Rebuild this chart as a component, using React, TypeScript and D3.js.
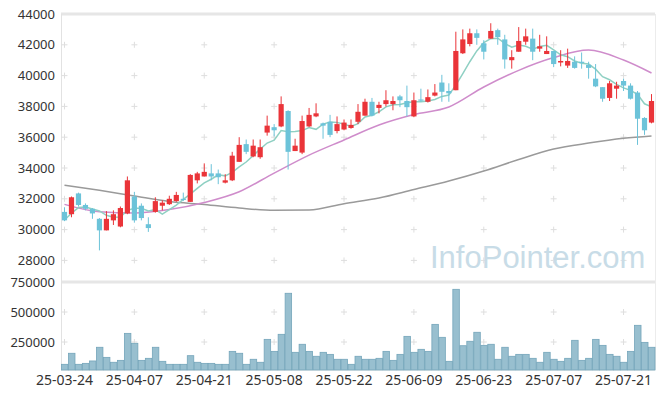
import * as d3 from 'd3';

const dates = [
  '25-03-24', '25-03-25', '25-03-26', '25-03-27', '25-03-28', '25-03-31',
  '25-04-01', '25-04-02', '25-04-03', '25-04-04', '25-04-07', '25-04-08', '25-04-09', '25-04-10', '25-04-11',
  '25-04-14', '25-04-15', '25-04-16', '25-04-17', '25-04-18', '25-04-21', '25-04-22', '25-04-23', '25-04-24', '25-04-25',
  '25-04-28', '25-04-29', '25-04-30', '25-05-02', '25-05-07', '25-05-08', '25-05-09',
  '25-05-12', '25-05-13', '25-05-14', '25-05-15', '25-05-16', '25-05-19', '25-05-20', '25-05-21', '25-05-22', '25-05-23',
  '25-05-26', '25-05-27', '25-05-28', '25-05-29', '25-05-30', '25-06-02', '25-06-04', '25-06-05', '25-06-09',
  '25-06-10', '25-06-11', '25-06-12', '25-06-13', '25-06-16', '25-06-17', '25-06-18', '25-06-19', '25-06-20', '25-06-23',
  '25-06-24', '25-06-25', '25-06-26', '25-06-27', '25-06-30', '25-07-01', '25-07-02', '25-07-03', '25-07-04', '25-07-07',
  '25-07-08', '25-07-09', '25-07-10', '25-07-11', '25-07-14', '25-07-15', '25-07-16', '25-07-17', '25-07-18', '25-07-21',
  '25-07-22', '25-07-23', '25-07-24', '25-07-25',
];

const opens = [
  31150, 31000, 32350, 31600, 31350, 30700, 29950, 30600, 30200, 31050,
  32150, 31550, 30350, 31150, 31550, 31650, 31850, 32000, 31800, 33200,
  33450, 33650, 33650, 33050, 33200, 34400, 35550, 34750, 34700, 36300,
  36650, 36700, 37700, 35100, 35000, 36700, 37350, 36900, 37000, 36400,
  36500, 36600, 37000, 37400, 38300, 37900, 38150, 38150, 38650, 38350,
  37350, 38450, 38300, 38700, 39550, 39000, 39050, 41450, 42050, 42750,
  42100, 42400, 42950, 42350, 41000, 41550, 42200, 42400, 41750, 41400,
  41600, 40850, 40650, 40900, 40900, 40700, 39800, 39250, 38550, 39150,
  39650, 39350, 38900, 37250, 36950,
];
const highs = [
  31450, 32150, 32400, 31700, 31400, 30750, 31200, 31250, 31500, 33450,
  32450, 31700, 30800, 32100, 31900, 32200, 32450, 32400, 33600, 33750,
  34300, 34250, 33900, 33600, 35050, 36000, 35850, 35850, 35850, 37400,
  36850, 38650, 37750, 35900, 37400, 37900, 38200, 36950, 37450, 37350,
  37150, 37150, 38150, 38500, 38550, 38300, 39050, 38650, 38750, 39350,
  38900, 39150, 39100, 39450, 40050, 39500, 42850, 43000, 43050, 43000,
  42300, 43400, 43050, 42650, 41650, 43150, 43050, 43050, 42650, 42550,
  41600, 41650, 41750, 41250, 41500, 40900, 40750, 39250, 39650, 39600,
  39800, 39500, 39000, 37300, 38800,
];
const lows = [
  30550, 30800, 31500, 31250, 30700, 28650, 29950, 30300, 30150, 31000,
  30450, 30600, 29850, 31100, 31250, 31600, 31800, 31850, 31800, 33000,
  33450, 33200, 32950, 33000, 33150, 34400, 34900, 34700, 34600, 36100,
  36050, 36650, 33900, 35100, 34900, 36650, 37300, 35900, 36000, 36250,
  36450, 36550, 36850, 37400, 37350, 37550, 38000, 37750, 37950, 37350,
  37300, 38300, 38250, 38650, 38300, 38300, 39050, 41400, 41900, 42000,
  41050, 42400, 42000, 40450, 40450, 41550, 42000, 41000, 41550, 41400,
  40550, 40600, 40500, 40450, 40450, 39800, 39250, 38300, 38350, 38500,
  39000, 38450, 35500, 36150, 36900,
];
const closes = [
  30600, 32100, 31600, 31350, 31050, 29950, 30700, 31000, 31400, 33200,
  30600, 30750, 30100, 31850, 31750, 32000, 32250, 31950, 33550, 33650,
  33750, 33450, 33400, 33200, 34800, 35500, 35050, 35450, 35350, 36750,
  36450, 38150, 35050, 35450, 37050, 37450, 37550, 36750, 36150, 36850,
  36950, 36800, 37650, 38300, 37400, 38100, 38400, 38350, 38400, 37950,
  38400, 38400, 38600, 38900, 38950, 38850, 41600, 42350, 42750, 42450,
  41550, 42900, 42500, 41050, 41200, 42250, 42550, 41550, 41900, 41600,
  40750, 40950, 40950, 40500, 40850, 40500, 39300, 38500, 39500, 39350,
  39350, 38500, 37200, 36450, 38350,
];
const volumes = [
  64000, 156000, 64000, 72000, 92000, 206000, 122000, 81000, 97000, 322000,
  239000, 97000, 114000, 206000, 89000, 64000, 64000, 64000, 136000, 81000,
  72000, 72000, 64000, 64000, 172000, 156000, 64000, 106000, 81000, 272000,
  172000, 314000, 656000, 164000, 231000, 172000, 131000, 164000, 147000, 106000,
  106000, 64000, 131000, 106000, 106000, 114000, 172000, 97000, 147000, 297000,
  164000, 189000, 172000, 397000, 289000, 89000, 689000, 219000, 256000, 331000,
  222000, 231000, 106000, 206000, 131000, 147000, 147000, 114000, 81000, 164000,
  106000, 89000, 114000, 264000, 97000, 114000, 272000, 222000, 147000, 131000,
  81000, 172000, 389000, 247000, 206000,
];
// closes of the four sessions before the first bar, for the 5-day average
const prevCloses = [29900, 29750, 31200, 31650];

// 20-day and 120-day averages every 5 sessions
const maIdx = [0, 5, 10, 15, 20, 25, 30, 35, 40, 45, 50, 55, 60, 65, 70, 75, 80, 84];
const ma20 = [31640, 31160, 31080, 31300, 31760, 32460, 33670, 34840, 35820, 36790, 37470, 37960, 39260, 40340, 41170, 41660, 41010, 40170];
const ma120 = [32880, 32550, 32180, 31820, 31630, 31400, 31250, 31270, 31680, 32050, 32600, 33150, 33800, 34550, 35230, 35620, 35930, 36080];

const priceTicks = [28000, 30000, 32000, 34000, 36000, 38000, 40000, 42000, 44000];
const volumeTicks = [250000, 500000, 750000];
const dateTickIdx = [0, 10, 20, 30, 40, 50, 60, 70, 80];

const W = 665;
const H = 399;
const left = 61;
const right = 655;
const priceTop = 14;
const volTop = 282;
const volBottom = 370;

const UP = '#ea3439';
const DOWN = '#6cc3d9';
const GRID = '#dedede';
const FONT = '"Noto Sans", sans-serif';

export default function App() {
  const x = d3.scaleBand<string>().domain(dates).range([left, right]).padding(0);
  const bw = x.bandwidth();
  const cx = (i: number) => (x(dates[i]) ?? 0) + bw / 2;

  const y = d3.scaleLinear().domain([28000, 44000]).range([260.4, priceTop]);
  const yv = d3.scaleLinear().domain([0, 750000]).range([372, volTop]);

  const allCloses = [...prevCloses, ...closes];
  const ma5 = closes.map((_, i) => d3.mean(allCloses.slice(i, i + 5)) ?? 0);

  const line5 = d3
    .line<number>()
    .x((_, i) => cx(i))
    .y((d) => y(d));
  const lineMa = d3
    .line<number>()
    .x((_, i) => cx(maIdx[i]))
    .y((d) => y(d))
    .curve(d3.curveMonotoneX);

  const crossXs = dateTickIdx.map((i) => cx(i));
  const crossYs = [
    ...priceTicks.filter((t) => t < 44000).map((t) => y(t)),
    ...volumeTicks.filter((t) => t < 750000).map((t) => yv(t)),
  ];

  return (
    <svg
      width={W}
      height={H}
      style={{ position: 'absolute', left: 0, top: 0, background: '#fff' }}
      fontFamily={FONT}
    >
      {/* frame */}
      <line x1={left} x2={right} y1={priceTop} y2={priceTop} stroke="#e6e6e6" strokeWidth={3} />
      <line x1={left} x2={right} y1={volTop} y2={volTop} stroke="#e6e6e6" strokeWidth={3} />
      <line x1={left} x2={right} y1={volBottom} y2={volBottom} stroke="#e6e6e6" strokeWidth={1} />
      <line x1={left + 0.5} x2={left + 0.5} y1={priceTop} y2={volBottom} stroke="#e2e2e2" />
      <line x1={right + 0.5} x2={right + 0.5} y1={priceTop} y2={volBottom} stroke="#ececec" />

      {/* grid crosses */}
      {crossXs.map((gx) =>
        crossYs.map((gy) => (
          <g key={`${gx}-${gy}`} stroke={GRID} strokeWidth={1}>
            <line x1={gx - 3} x2={gx + 3} y1={gy} y2={gy} />
            <line x1={gx} x2={gx} y1={gy - 3} y2={gy + 3} />
          </g>
        ))
      )}

      {/* watermark */}
      <text
        x={430}
        y={268}
        fontSize={31}
        fontFamily='"Liberation Sans", Arial, sans-serif'
        fill="#c8dce7"
      >
        InfoPointer.com
      </text>

      {/* price axis labels */}
      {priceTicks.map((t) => (
        <text key={t} x={55} y={y(t)} dy="0.35em" textAnchor="end" fontSize={13} fill="#333">
          {t}
        </text>
      ))}
      {/* volume axis labels */}
      {volumeTicks.map((t) => (
        <text key={t} x={55} y={yv(t)} dy="0.35em" textAnchor="end" fontSize={13} fill="#333">
          {t}
        </text>
      ))}
      {/* date labels */}
      {dateTickIdx.map((i) => (
        <text key={i} x={cx(i)} y={385} textAnchor="middle" fontSize={14} fill="#333">
          {dates[i]}
        </text>
      ))}

      {/* volume bars */}
      {volumes.map((v, i) => (
        <rect
          key={i}
          x={(x(dates[i]) ?? 0) + 0.5}
          y={yv(v)}
          width={bw - 0.5}
          height={volBottom - yv(v)}
          fill="#98bfcf"
          stroke="#74a5ba"
          strokeWidth={0.8}
        />
      ))}

      {/* moving averages */}
      <path d={lineMa(ma120) ?? ''} fill="none" stroke="#9a9a9a" strokeWidth={1.5} />
      <path d={lineMa(ma20) ?? ''} fill="none" stroke="#cf8ccb" strokeWidth={1.5} />
      <path d={line5(ma5) ?? ''} fill="none" stroke="#8fd0c3" strokeWidth={1.5} />

      {/* candles */}
      {closes.map((c, i) => {
        const o = opens[i];
        const color = c >= o ? UP : DOWN;
        const top = y(Math.max(o, c));
        const bot = y(Math.min(o, c));
        return (
          <g key={i}>
            <line x1={cx(i)} x2={cx(i)} y1={y(highs[i])} y2={y(lows[i])} stroke={color} strokeWidth={1} />
            <rect x={cx(i) - 2.6} y={top} width={5.2} height={Math.max(bot - top, 1.2)} fill={color} />
          </g>
        );
      })}
    </svg>
  );
}
